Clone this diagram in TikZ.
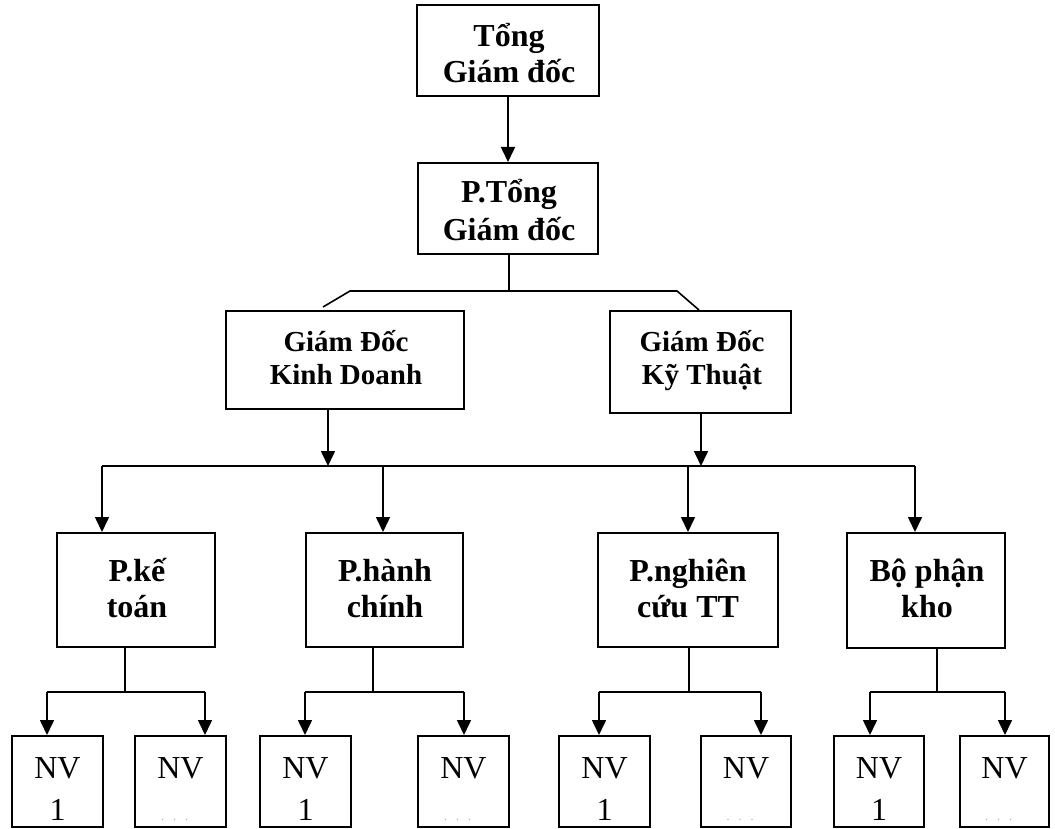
\documentclass[tikz,border=0pt]{standalone}
\usepackage{fontspec}
\setmainfont{Liberation Serif}
\usetikzlibrary{arrows.meta}

% two centred lines whose first baseline is the box baseline
\newcommand{\mklines}[2]{\begin{tabular}[t]{@{}c@{}}#1\\#2\end{tabular}}

\tikzset{
  box/.style={draw, line width=2pt, rectangle, inner sep=0pt},
  lbl/.style={anchor=base, inner sep=0pt, font=\fontsize{32}{36}\selectfont\bfseries},
  lblsm/.style={anchor=base, inner sep=0pt, font=\fontsize{29}{33}\selectfont\bfseries},
  nvtxt/.style={anchor=base, inner sep=0pt, font=\fontsize{32}{38}\selectfont},
  dots/.style={anchor=base, inner sep=0pt, text=black!35, font=\fontsize{12}{14}\selectfont},
  link/.style={line width=1.6pt},
  arr/.style={link, -{Triangle[length=15pt,width=14pt]}},
}

\begin{document}
\begin{tikzpicture}[x=1pt, y=-1pt]
\useasboundingbox (0,0) rectangle (1055,829);

% --- management levels
\node[box, minimum width=182pt, minimum height=91pt] (tgd) at (508,50.5) {};
\node[lbl] (tgd-t) at (509,47) {\mklines{Tổng}{Giám đốc}};

\node[box, minimum width=180pt, minimum height=91pt] (ptgd) at (508,208.5) {};
\node[lbl, font=\fontsize{32}{38}\selectfont\bfseries] (ptgd-t) at (509,203) {\mklines{P.Tổng}{Giám đốc}};

\node[box, minimum width=238pt, minimum height=98pt] (gdkd) at (345,360) {};
\node[lblsm] (gdkd-t) at (346,351) {\mklines{Giám Đốc}{Kinh Doanh}};

\node[box, minimum width=181pt, minimum height=102pt] (gdkt) at (700.5,362) {};
\node[lblsm] (gdkt-t) at (702,351) {\mklines{Giám Đốc}{Kỹ Thuật}};

% --- departments
\node[box, minimum width=158pt, minimum height=114pt] (pkt) at (136,590) {};
\node[lbl] (pkt-t) at (137,581) {\mklines{P.kế}{toán}};

\node[box, minimum width=157pt, minimum height=114pt] (phc) at (384.5,590) {};
\node[lbl] (phc-t) at (385,581) {\mklines{P.hành}{chính}};

\node[box, minimum width=180pt, minimum height=114pt] (pnc) at (688,590) {};
\node[lbl] (pnc-t) at (688,581) {\mklines{P.nghiên}{cứu TT}};

\node[box, minimum width=158pt, minimum height=115pt] (bpk) at (926,590.5) {};
\node[lbl] (bpk-t) at (927,581) {\mklines{Bộ phận}{kho}};

% --- staff boxes
\foreach \i/\cx/\w/\second in {1/57.5/91/1, 2/180.5/91/, 3/305.5/91/1, 4/463.5/91/,
                               5/604.5/91/1, 6/746/90/, 7/879/90/1, 8/1004.5/89/} {
  \node[box, minimum width=\w pt, minimum height=91pt] (nv\i) at (\cx,781.5) {};
  \node[nvtxt] (nv\i-a) at (\cx,778) {NV};
  \ifx\second\empty
    \node[dots] (nv\i-b) at (\cx-6,820) {.\hspace{9pt}.\hspace{9pt}.};
  \else
    \node[nvtxt] (nv\i-b) at (\cx,820) {\second};
  \fi
}

% --- top connectors
\draw[arr] (tgd.south) -- (ptgd.north);

\coordinate (j0) at (509,291);
\coordinate (jl) at (350,291);
\coordinate (jr) at (677,291);
\coordinate (dl) at (323,307);
\coordinate (dr) at (699,310);
\draw[link] (ptgd.south -| j0) -- (j0);
\draw[link] (dl) -- (jl) -- (jr) -- (dr);

% --- bus to the departments
\coordinate (busL) at (102,466);
\coordinate (busR) at (915,466);
\coordinate (kdb) at (328,466);
\coordinate (ktb) at (701,466);
\coordinate (hcb) at (383,466);
\coordinate (ncb) at (688,466);
\draw[arr] (kdb |- gdkd.south) -- (kdb);
\draw[arr] (ktb |- gdkt.south) -- (ktb);
\draw[link] (busL) -- (busR);
\draw[arr] (busL) -- (busL |- pkt.north);
\draw[arr] (hcb) -- (hcb |- phc.north);
\draw[arr] (ncb) -- (ncb |- pnc.north);
\draw[arr] (busR) -- (busR |- bpk.north);

% --- department to staff forks: dept / stem x / left x / right x / left box / right box
\foreach \d/\s/\a/\b/\l/\r in {pkt/125/47/205/nv1/nv2, phc/373/305/464/nv3/nv4,
                               pnc/689/599/761/nv5/nv6, bpk/937/870/1005/nv7/nv8} {
  \coordinate (\d-s) at (\s,692);
  \coordinate (\d-a) at (\a,692);
  \coordinate (\d-b) at (\b,692);
  \draw[link] (\d-s |- \d.south) -- (\d-s);
  \draw[link] (\d-a) -- (\d-b);
  \draw[arr] (\d-a) -- (\d-a |- \l.north);
  \draw[arr] (\d-b) -- (\d-b |- \r.north);
}
\end{tikzpicture}
\end{document}
